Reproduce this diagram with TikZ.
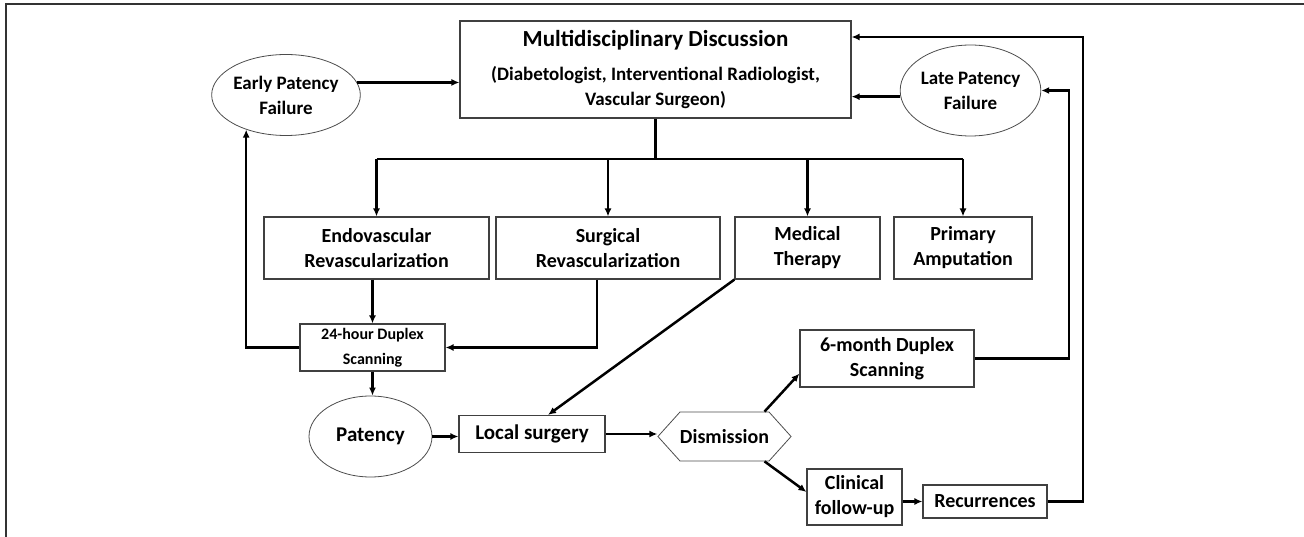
\documentclass[tikz,border=0pt]{standalone}
\usepackage{fontspec}
\setmainfont{Carlito}
\usetikzlibrary{positioning, shapes.geometric, shapes.symbols, arrows.meta}

\begin{document}
\begin{tikzpicture}[
  x=1pt, y=-1pt,
  font=\bfseries\fontsize{20}{25}\selectfont,
  box/.style={draw=black!75, line width=1.1pt, align=center, inner sep=2pt},
  oval/.style={draw=black!70, ellipse, line width=0.8pt, align=center, inner sep=0pt},
  link/.style={line width=2.5pt},
  flow/.style={link, -{Latex[length=8pt, width=7pt]}},
]
\useasboundingbox (0,0) rectangle (1304,537);
\draw[line width=1.4pt, black!80] (1304,4) -- (6,4) -- (6,537);

% top row
\node[box, minimum width=391pt, minimum height=97pt] (mdd) at (655.5,69.5)
    {\fontsize{23}{28}\selectfont Multidisciplinary Discussion\\[9pt]
     \fontsize{19}{20}\selectfont (Diabetologist, Interventional Radiologist,\\
     \fontsize{19}{20}\selectfont Vascular Surgeon)};
\node[oval, minimum width=117pt, minimum height=81pt] (early) at (286,95)
    {\fontsize{19}{24}\selectfont Early Patency\\\fontsize{19}{24}\selectfont Failure};
\node[oval, minimum width=125pt, minimum height=91pt] (late) at (970.5,90.5)
    {\fontsize{19}{24}\selectfont Late Patency\\\fontsize{19}{24}\selectfont Failure};

% treatment options
\node[box, minimum width=225pt, minimum height=62pt] (endo) at (376.5,248)
    {Endovascular\\Revascularization};
\node[box, minimum width=224pt, minimum height=62pt] (surg) at (608,248)
    {Surgical\\Revascularization};
\node[box, minimum width=145pt, minimum height=62pt] (med) at (807.5,248)
    {Medical\\Therapy};
\node[box, minimum width=138pt, minimum height=62pt] (prim) at (963,248)
    {Primary\\Amputation};

% follow-up
\node[box, minimum width=145pt, minimum height=47pt] (dup24) at (372.5,347.5)
    {\fontsize{16}{21}\selectfont 24-hour Duplex\\\fontsize{16}{21}\selectfont Scanning};
\node[oval, minimum width=123pt, minimum height=81pt] (pat) at (370.5,436.5)
    {\fontsize{21}{25}\selectfont Patency};
\node[box, minimum width=146pt, minimum height=37pt] (local) at (532,434)
    {\fontsize{21}{25}\selectfont Local surgery};
\node[draw=black!70, line width=0.8pt, signal, signal to=west and east,
      signal pointer angle=96, minimum width=123pt, minimum height=49pt,
      inner sep=0pt] (dism) at (724.5,436.5) {Dismission};
\node[box, minimum width=174pt, minimum height=57pt] (sixm) at (887,358.5)
    {6-month Duplex\\Scanning};
\node[box, minimum width=95pt, minimum height=56pt] (clin) at (854.5,497)
    {Clinical\\follow-up};
\node[box, minimum width=124pt, minimum height=33pt] (recur) at (985,501.5)
    {Recurrences};

\coordinate (split) at (655.5,159);
\coordinate (lateup) at (1069,90.5);
\coordinate (back) at (1083,37);

\draw[flow] (early.10) -- (early.10 -| mdd.west);
\draw[flow] (late.185) -- (late.185 -| mdd.east);
\draw[link] (mdd.south) -- (split);
\draw[link] (split -| endo.north) -- (split -| prim.north);
\foreach \n in {endo, surg, med, prim}
  \draw[flow] (split -| \n.north) -- (\n.north);

\draw[flow] (dup24.north |- endo.south) -- (dup24.north);
\draw[flow] ([xshift=-11pt]surg.south) |- (dup24.east);
\draw[flow] (dup24.west) -| (early.221);
\draw[flow] (dup24.south) -- (dup24.south |- pat.north);
\draw[flow] (pat.east) -- (pat.east -| local.west);
\draw[flow] (med.south west) -- ([xshift=16pt]local.north);
\draw[flow] (local.east) -- (local.east -| dism.west);
\draw[flow] ([xshift=40pt]dism.north) -- ([yshift=14pt]sixm.south west);
\draw[flow] ([xshift=40pt]dism.south) -- ([yshift=5pt]clin.west);
\draw[flow] (recur.west -| clin.east) -- (recur.west);
\draw[flow] (sixm.east) -| (lateup) -- (late.east);
\draw[flow] (recur.east) -| (back) -- (back -| mdd.east);
\end{tikzpicture}
\end{document}
